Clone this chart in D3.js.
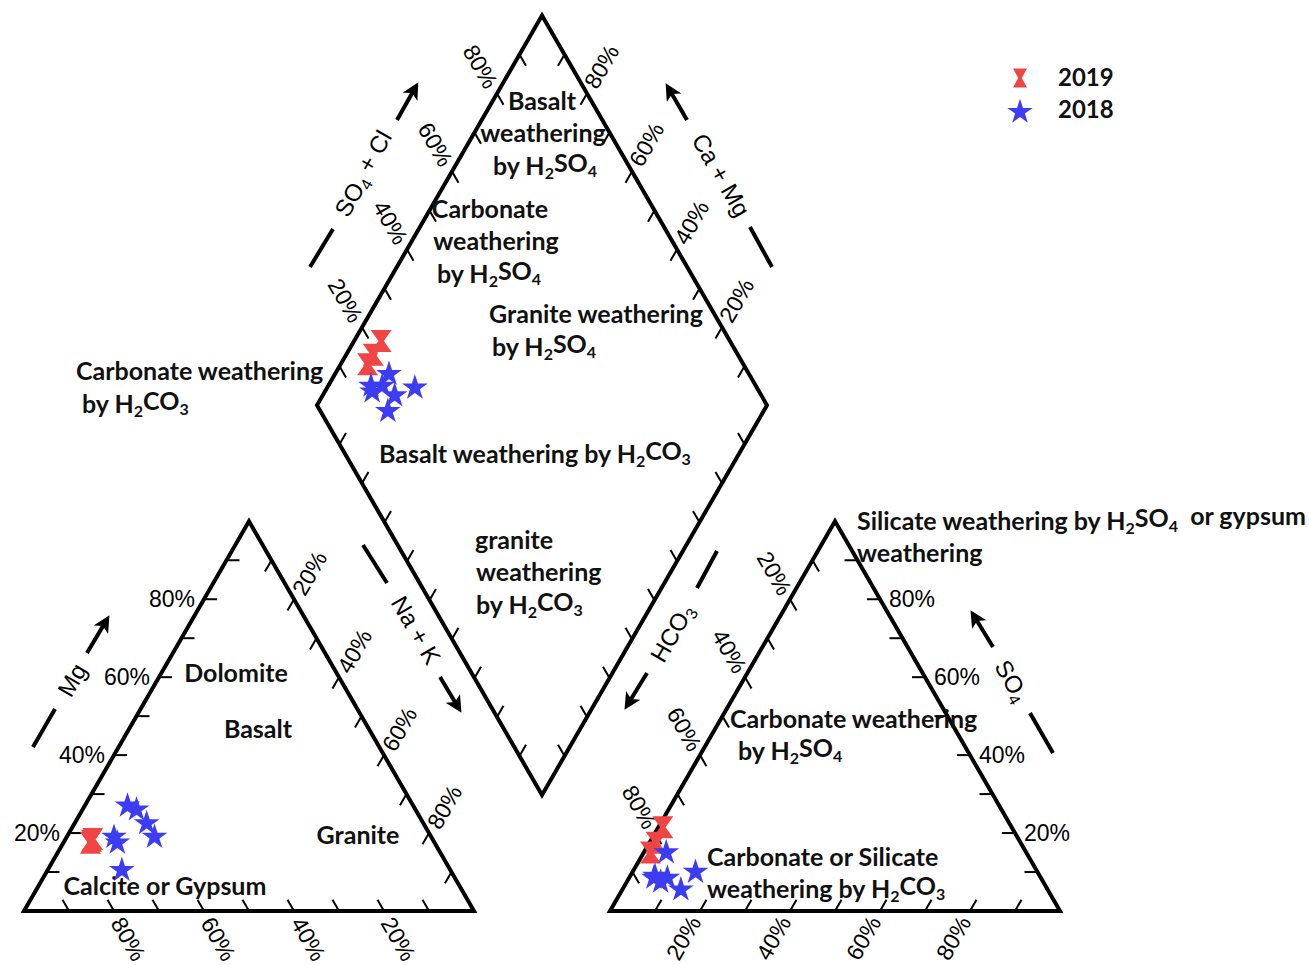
<!DOCTYPE html>
<html>
<head>
<meta charset="utf-8">
<script src="https://cdn.jsdelivr.net/npm/d3@7"></script>
<style>
  html, body { margin: 0; padding: 0; background: #ffffff; }
  svg { display: block; }
</style>
</head>
<body>
<svg id="chart" width="1309" height="965"></svg>
<script>
// ---- Sample compositions (% of meq/L) ----
const years = ["2019", "2018"];

// 2019 samples
const ca2019   = [75.5, 76, 76.5];
const mg2019   = [18.5, 18, 17.5];
const nak2019  = [6, 6, 6];
const hco3_2019 = [77.5, 81, 83.5];
const so4_2019  = [21.5, 17.5, 15];
const cl2019    = [1, 1.5, 1.5];

// 2018 samples
const ca2018   = [63.5, 62, 61.5, 61.5, 70.5, 70.5, 73];
const mg2018   = [27, 26, 22.5, 19, 19, 17.5, 10.5];
const nak2018  = [9.5, 12, 16, 19.5, 10.5, 12, 16.5];
const hco3_2018 = [85.5, 80, 81.5, 76, 86, 83, 85];
const so4_2018  = [9, 15, 5.5, 10, 8.5, 8.5, 7.5];
const cl2018    = [5.5, 5, 13, 14, 5.5, 8.5, 7.5];

// Axis ticks
const tickValues = [10, 20, 30, 40, 50, 60, 70, 80, 90];
const tickLabels = [20, 40, 60, 80];

// ---- Geometry ----
const svg = d3.select("#chart");
svg.append("rect").attr("width", 1309).attr("height", 965).attr("fill", "#fff");

const side = 450, H = side * Math.sqrt(3) / 2;
const along = d3.scaleLinear().domain([0, 100]).range([0, side]);
const up = d3.scaleLinear().domain([0, 100]).range([0, H]);

const catO = { x: 24, y: 911 };   // cation triangle, bottom-left corner
const anO  = { x: 610, y: 911 };  // anion triangle, bottom-left corner
const dB   = { x: 542, y: 795 };  // diamond, bottom corner

const catPt = (mg, nak) => [catO.x + along(nak + mg / 2), catO.y - up(mg)];
const anPt  = (so4, cl) => [anO.x + along(cl + so4 / 2), anO.y - up(so4)];
const dPt   = (camg, so4cl) => [dB.x - along(camg) / 2 + along(so4cl) / 2, dB.y - up(camg) - up(so4cl)];

const LABEL_FONT = "'Liberation Sans', Arial, sans-serif";
const BOLD_FONT = "Lato, 'Open Sans', sans-serif";

// ---- Outlines ----
const outline = g => svg.append("path")
  .attr("d", "M" + g.map(p => p.join(",")).join("L") + "Z")
  .attr("fill", "none").attr("stroke", "#000").attr("stroke-width", 4)
  .attr("stroke-linejoin", "miter");

outline([catPt(0, 0), catPt(100, 0), catPt(0, 100)]);
outline([anPt(0, 0), anPt(100, 0), anPt(0, 100)]);
outline([dPt(0, 0), dPt(100, 0), dPt(100, 100), dPt(0, 100)]);

// ---- Axes: ticks and tick labels ----
const s3 = Math.sqrt(3) / 2;
const axes = [
  // cation triangle
  { pt: v => catPt(v, 0),        dir: [1, 0],        lab: { anchor: "end",   dx: -9, dy: 0,  rot: 0 } },
  { pt: v => catPt(100 - v, v),  dir: [-0.5, s3],    lab: { anchor: "start", dx: 4,  dy: -6, rot: -60 } },
  { pt: v => catPt(0, 100 - v),  dir: [-0.5, -s3],   lab: { anchor: "start", dx: 3,  dy: 8,  rot: 60 } },
  // anion triangle
  { pt: v => anPt(100 - v, 0),   dir: [0.5, s3],     lab: { anchor: "end",   dx: -4, dy: -6, rot: 60 } },
  { pt: v => anPt(0, v),         dir: [0.5, -s3],    lab: { anchor: "end",   dx: -5, dy: 7,  rot: -60 } },
  { pt: v => anPt(v, 100 - v),   dir: [-1, 0],       lab: { anchor: "start", dx: 9,  dy: 0,  rot: 0 } },
  // diamond
  { pt: v => dPt(100, v),        dir: [0.5, s3],     lab: { anchor: "end",   dx: -5, dy: -7, rot: 60 } },
  { pt: v => dPt(v, 100),        dir: [-0.5, s3],    lab: { anchor: "start", dx: 3,  dy: -7, rot: -60 } },
  { pt: v => dPt(v, 0),          dir: [0.5, -s3],    lab: null },
  { pt: v => dPt(0, v),          dir: [-0.5, -s3],   lab: null }
];

const tickLen = 13;
axes.forEach(ax => {
  const g = svg.append("g");
  g.selectAll("line").data(tickValues).join("line")
    .attr("x1", v => ax.pt(v)[0]).attr("y1", v => ax.pt(v)[1])
    .attr("x2", v => ax.pt(v)[0] + ax.dir[0] * tickLen)
    .attr("y2", v => ax.pt(v)[1] + ax.dir[1] * tickLen)
    .attr("stroke", "#000").attr("stroke-width", 2);
  if (ax.lab) {
    g.selectAll("text").data(tickLabels).join("text")
      .attr("transform", v => {
        const p = ax.pt(v);
        return `translate(${p[0] + ax.lab.dx},${p[1] + ax.lab.dy}) rotate(${ax.lab.rot})`;
      })
      .attr("dy", "0.35em")
      .attr("text-anchor", ax.lab.anchor)
      .attr("font-family", LABEL_FONT).attr("font-size", 23)
      .attr("fill", "#000")
      .text(v => v + "%");
  }
});

// ---- Text helper: "_x" gives a subscript ----
function richText(sel, str, subSize) {
  const parts = str.split(/(_\d)/).filter(p => p.length);
  let lowered = false;
  parts.forEach(p => {
    if (p.startsWith("_")) {
      sel.append("tspan").attr("dy", lowered ? 0 : "0.28em").attr("font-size", subSize).text(p.slice(1));
      lowered = true;
    } else {
      const t = sel.append("tspan").text(p);
      if (lowered) { t.attr("dy", "-0.28em"); lowered = false; }
    }
  });
}

// ---- Axis titles with dash and arrow ----
const defs = svg.append("defs");
defs.append("marker").attr("id", "arrowHead")
  .attr("viewBox", "0 0 10 10").attr("refX", 6).attr("refY", 5)
  .attr("markerWidth", 4.2).attr("markerHeight", 4.2)
  .attr("markerUnits", "strokeWidth").attr("orient", "auto")
  .append("path").attr("d", "M0,0 L10,5 L0,10 L2.5,5 Z").attr("fill", "#000");

const axisTitles = [
  { text: "SO_4 + Cl", c: [364, 174], rot: -60, dash: [[310, 267], [333, 229]], arrow: [[397, 120], [415, 88]] },
  { text: "Ca + Mg",   c: [721, 175], rot: 60,  dash: [[750, 227], [772, 267]], arrow: [[687, 120], [669, 89]] },
  { text: "Mg",        c: [72, 680],  rot: -60, dash: [[33, 747], [55, 709]],   arrow: [[87, 653], [106, 621]] },
  { text: "Na + K",    c: [416, 630], rot: 60,  dash: [[363, 545], [387, 583]], arrow: [[440, 677], [458, 707]] },
  { text: "HCO_3",     c: [672, 633], rot: -60, dash: [[717, 551], [697, 588]], arrow: [[647, 673], [628, 704]] },
  { text: "SO_4",      c: [1012, 681], rot: 60, dash: [[1030, 713], [1053, 753]], arrow: [[993, 647], [974, 616]] }
];

axisTitles.forEach(t => {
  const txt = svg.append("text")
    .attr("transform", `translate(${t.c[0]},${t.c[1]}) rotate(${t.rot})`)
    .attr("dy", "0.35em").attr("text-anchor", "middle")
    .attr("font-family", LABEL_FONT).attr("font-size", 24).attr("fill", "#000");
  richText(txt, t.text, 16);
  svg.append("line")
    .attr("x1", t.dash[0][0]).attr("y1", t.dash[0][1])
    .attr("x2", t.dash[1][0]).attr("y2", t.dash[1][1])
    .attr("stroke", "#000").attr("stroke-width", 4);
  svg.append("line")
    .attr("x1", t.arrow[0][0]).attr("y1", t.arrow[0][1])
    .attr("x2", t.arrow[1][0]).attr("y2", t.arrow[1][1])
    .attr("stroke", "#000").attr("stroke-width", 4)
    .attr("marker-end", "url(#arrowHead)");
});

// ---- Region annotations ----
const notes = [
  ["Basalt", 542, 110, "middle"],
  ["weathering", 543, 142, "middle"],
  ["by H_2SO_4", 545, 175, "middle"],
  ["Carbonate", 490, 218, "middle"],
  ["weathering", 496, 250, "middle"],
  ["by H_2SO_4", 489, 283, "middle"],
  ["Granite weathering", 596, 323, "middle"],
  ["by H_2SO_4", 544, 356, "middle"],
  ["Carbonate weathering", 76, 380, "start"],
  ["by H_2CO_3", 82, 413, "start"],
  ["Basalt weathering by H_2CO_3", 379, 463, "start"],
  ["granite", 475, 549, "start"],
  ["weathering", 476, 581, "start"],
  ["by H_2CO_3", 476, 614, "start"],
  ["Silicate weathering by H_2SO_4\u00A0\u00A0or gypsum", 857, 530, "start"],
  ["weathering", 857, 562, "start"],
  ["Carbonate weathering", 730, 728, "start"],
  ["by H_2SO_4", 738, 760, "start"],
  ["Carbonate or Silicate", 707, 866, "start"],
  ["weathering by H_2CO_3", 707, 898, "start"],
  ["Dolomite", 236, 682, "middle"],
  ["Basalt", 258, 738, "middle"],
  ["Granite", 358, 844, "middle"],
  ["Calcite or Gypsum", 165, 895, "middle"]
];

notes.forEach(n => {
  const t = svg.append("text")
    .attr("x", n[1]).attr("y", n[2]).attr("text-anchor", n[3])
    .attr("font-family", BOLD_FONT).attr("font-weight", 700)
    .attr("font-size", 25).attr("fill", "#111");
  richText(t, n[0], 16);
});

// ---- Markers ----
const RED = "#f04545", BLUE = "#3c3cf2";
const hourglass = (w, h) =>
  `M${-w / 2},${-h / 2}L${w / 2},${-h / 2}L${w * 0.13},0L${w / 2},${h / 2}L${-w / 2},${h / 2}L${-w * 0.13},0Z`;
const starPath = d3.symbol(d3.symbolStar, 205)();

function samples(ca, mg, nak, hco3, so4, cl) {
  return ca.map((_, i) => ({ ca: ca[i], mg: mg[i], nak: nak[i], hco3: hco3[i], so4: so4[i], cl: cl[i] }));
}
const s2019 = samples(ca2019, mg2019, nak2019, hco3_2019, so4_2019, cl2019);
const s2018 = samples(ca2018, mg2018, nak2018, hco3_2018, so4_2018, cl2018);

function plotSet(data, path, color) {
  const pos = [];
  data.forEach(d => {
    pos.push(catPt(d.mg, d.nak));
    pos.push(anPt(d.so4, d.cl));
    pos.push(dPt(100 - d.nak, 100 - d.hco3));
  });
  svg.append("g").selectAll("path").data(pos).join("path")
    .attr("transform", p => `translate(${p[0]},${p[1]})`)
    .attr("d", path).attr("fill", color);
}
plotSet(s2019, hourglass(21, 22), RED);
plotSet(s2018, starPath, BLUE);

// ---- Legend ----
const legend = svg.append("g");
legend.append("path").attr("transform", "translate(1020,78)").attr("d", hourglass(14, 19)).attr("fill", RED);
legend.append("path").attr("transform", "translate(1020,112)").attr("d", d3.symbol(d3.symbolStar, 200)()).attr("fill", BLUE);
legend.selectAll("text").data(years).join("text")
  .attr("x", 1058).attr("y", (d, i) => 86 + i * 32)
  .attr("font-family", BOLD_FONT).attr("font-weight", 700)
  .attr("font-size", 24).attr("fill", "#111")
  .text(d => d);
</script>
</body>
</html>
